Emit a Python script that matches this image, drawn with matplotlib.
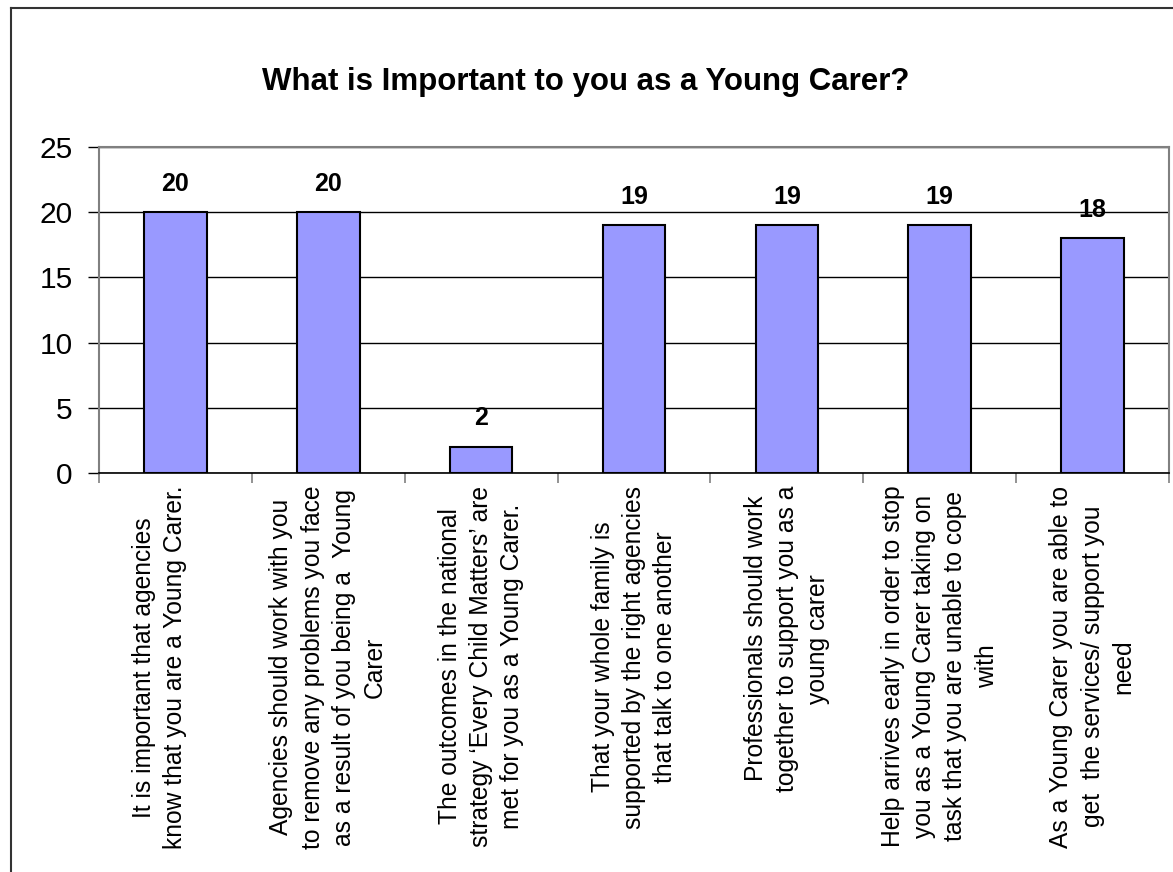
import matplotlib
matplotlib.use("Agg")
import matplotlib.pyplot as plt
from matplotlib.lines import Line2D

plt.rcParams['font.family'] = ['Liberation Sans', 'DejaVu Sans']

title = "What is Important to you as a Young Carer?"
categories = [
    "It is important that agencies\nknow that you are a Young Carer.\n ",
    "Agencies should work with you\nto remove any problems you face\nas a result of you being a  Young\nCarer",
    "The outcomes in the national\nstrategy \u2018Every Child Matters\u2019 are\nmet for you as a Young Carer.",
    "That your whole family is\nsupported by the right agencies\nthat talk to one another",
    "Professionals should work\ntogether to support you as a\nyoung carer",
    "Help arrives early in order to stop\nyou as a Young Carer taking on\ntask that you are unable to cope\nwith",
    "As a Young Carer you are able to\nget  the services/ support you\nneed",
]
values = [20, 20, 2, 19, 19, 19, 18]
yticks = [0, 5, 10, 15, 20, 25]

W, H = 1173, 872
fig = plt.figure(figsize=(W / 100, H / 100), dpi=100)
ax = fig.add_axes([99 / W, 1 - 473 / H, (1169 - 99) / W, (473 - 147) / H])

x = list(range(len(values)))
ax.bar(x, values, width=0.41, color="#9999FF", edgecolor="black", linewidth=1.5, zorder=3)
for xi, v in zip(x, values):
    ax.annotate(str(v), (xi, v), xytext=(0, 12), textcoords="offset points",
                ha="center", va="bottom", fontsize=18, fontweight="bold")

ax.set_xlim(-0.5, len(values) - 0.5)
ax.set_ylim(0, 25)
ax.set_yticks(yticks)
ax.set_yticklabels([str(t) for t in yticks], fontsize=21.5)
ax.yaxis.grid(True, color="black", linewidth=1)
ax.set_axisbelow(True)

ax.set_xticks(x)
ax.set_xticklabels(categories, rotation=90, fontsize=17.7, ha="center", va="top",
                   multialignment="center", linespacing=1.38)
ax.tick_params(axis="x", length=0, pad=9)
ax.set_xticks([i - 0.5 for i in range(len(values) + 1)], minor=True)
ax.tick_params(axis="x", which="minor", length=7.5, color="#808080", width=1.2)
ax.tick_params(axis="y", length=8, width=1, color="black", pad=11)

for s in ["top", "right", "left"]:
    ax.spines[s].set_color("#808080")
    ax.spines[s].set_linewidth(1.5)
ax.spines["bottom"].set_color("black")
ax.spines["bottom"].set_linewidth(1.2)

fig.text(0.5 * (262 + 909) / W, 1 - 82 / H, title, ha="center", va="center",
         fontsize=22.5, fontweight="bold")

# outer chart frame
fig.add_artist(Line2D([11 / W, 11 / W], [0, 1 - 8 / H], transform=fig.transFigure,
                      color="#333333", linewidth=1.5))
fig.add_artist(Line2D([11 / W, 1], [1 - 8 / H, 1 - 8 / H], transform=fig.transFigure,
                      color="#333333", linewidth=1.5))

fig.savefig("out.png", dpi=100)
